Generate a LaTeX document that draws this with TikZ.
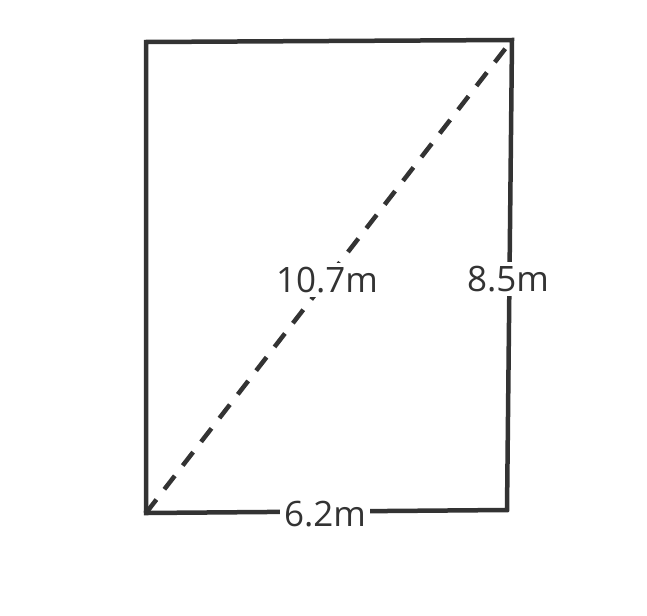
\documentclass[tikz,border=0pt]{standalone}
\usepackage{fontspec}
\setmainfont{Open Sans}
\definecolor{ink}{HTML}{333333}
\tikzset{
  edge/.style={draw=ink, line width=4.5pt, line cap=rect},
  diag/.style={draw=ink, line width=4.5pt, dash pattern=on 17pt off 13pt},
  lbl/.style={fill=white, text=ink, font=\fontsize{35}{40}\selectfont, inner sep=4pt}
}
\begin{document}
\begin{tikzpicture}[x=1pt,y=-1pt]
\useasboundingbox (0,0) rectangle (647,615);
\coordinate (tl) at (146,42);
\coordinate (tr) at (512,40);
\coordinate (br) at (507,510);
\coordinate (bl) at (146,513);
\draw[edge] (bl) -- (tl) -- (tr) -- (br) -- (bl);
\draw[diag] (bl) -- (tr);
\node[lbl] (d) at (327,280) {10.7m};
\node[lbl] (h) at (508,279) {8.5m};
\node[lbl] (w) at (325,514) {6.2m};
\end{tikzpicture}
\end{document}
